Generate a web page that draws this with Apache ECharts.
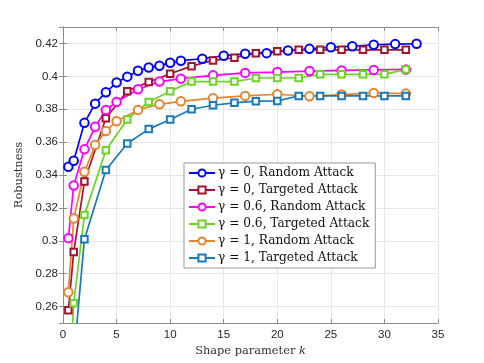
<!DOCTYPE html>
<html>
<head>
<meta charset="utf-8">
<script src="https://cdn.jsdelivr.net/npm/echarts@6/dist/echarts.min.js"></script>
<style>
  html, body {margin: 0; padding: 0; background: #fff;}
  #chart {width: 484px; height: 363px;}
</style>
</head>
<body>
<div id="chart"></div>
<script>
// 形状参数 k 与鲁棒性
const kRand0 = [0.5, 1, 2, 3, 4, 5, 6, 7, 8, 9, 10, 11, 13, 15, 17, 19, 21, 23, 25, 27, 29, 31, 33]
const rRand0 = [0.345, 0.3487, 0.3717, 0.3834, 0.3903, 0.3962, 0.3998, 0.4034, 0.4054, 0.4064, 0.4083, 0.4095, 0.4107, 0.4125, 0.4137, 0.4141, 0.4157, 0.4167, 0.4177, 0.4183, 0.4192, 0.4196, 0.4198]

const kTarg0 = [0.5, 1, 2, 4, 6, 8, 10, 12, 14, 16, 18, 20, 22, 24, 26, 28, 30, 32]
const rTarg0 = [0.2577, 0.2932, 0.336, 0.3745, 0.391, 0.3965, 0.4016, 0.4062, 0.4097, 0.4113, 0.4141, 0.4153, 0.4161, 0.4161, 0.4161, 0.4161, 0.4161, 0.4161]

const kRand06 = [0.5, 1, 2, 3, 4, 5, 7, 9, 11, 14, 17, 20, 23, 26, 29, 32]
const rRand06 = [0.3016, 0.3336, 0.3556, 0.3693, 0.3795, 0.3844, 0.3921, 0.3968, 0.3986, 0.4006, 0.4021, 0.4026, 0.4032, 0.4036, 0.4039, 0.4042]

const kTarg06 = [0.5, 1, 2, 4, 6, 8, 10, 12, 14, 16, 18, 20, 22, 24, 26, 28, 30, 32]
const rTarg06 = [0.205, 0.262, 0.3156, 0.3551, 0.3738, 0.3844, 0.391, 0.3968, 0.3968, 0.3968, 0.399, 0.399, 0.399, 0.4012, 0.4012, 0.4012, 0.4012, 0.4042]

const kRand1 = [0.5, 1, 2, 3, 4, 5, 7, 9, 11, 14, 17, 20, 23, 26, 29, 32]
const rRand1 = [0.2687, 0.3135, 0.342, 0.3582, 0.3668, 0.3727, 0.3796, 0.383, 0.3848, 0.3867, 0.3881, 0.3891, 0.3879, 0.3889, 0.3899, 0.3895]

const kTarg1 = [0.5, 1, 2, 4, 6, 8, 10, 12, 14, 16, 18, 20, 22, 24, 26, 28, 30, 32]
const rTarg1 = [0.19, 0.228, 0.301, 0.343, 0.3592, 0.3679, 0.3738, 0.38, 0.3824, 0.3839, 0.3849, 0.385, 0.3881, 0.3881, 0.3881, 0.3881, 0.3881, 0.3881]

const seriesNames = [
  'γ = 0, Random Attack',
  'γ = 0, Targeted Attack',
  'γ = 0.6, Random Attack',
  'γ = 0.6, Targeted Attack',
  'γ = 1, Random Attack',
  'γ = 1, Targeted Attack',
]

function zip(xs, ys) {
  return xs.map((x, i) => [x, ys[i]])
}

function makeLine(name, xs, ys, color, symbol) {
  const isCircle = symbol === 'emptyCircle'
  return {
    name: name,
    type: 'line',
    data: zip(xs, ys),
    symbol: symbol,
    symbolSize: isCircle ? 8.5 : 6.5,
    showAllSymbol: true,
    clip: true,
    lineStyle: {color: color, width: 1.7},
    itemStyle: {color: color, borderColor: color, borderWidth: 1.6},
    emphasis: {disabled: true},
  }
}

const serif = "'DejaVu Serif', 'Liberation Serif', serif"
const sans = "'Liberation Sans', Arial, sans-serif"
const axisGray = '#8c8c8c'

let myChart = echarts.init(document.getElementById('chart'))
myChart.setOption({
  animation: false,
  grid: {left: 63, right: 46, top: 27, bottom: 40},  // 与原图的坐标框对齐
  legend: {
    orient: 'vertical',
    left: 184,
    top: 163,
    padding: [4, 6, 4, 4],
    itemWidth: 26,
    itemHeight: 9,
    itemGap: 5,
    backgroundColor: '#fff',
    borderColor: '#999',
    borderWidth: 1,
    textStyle: {fontFamily: serif, fontSize: 12.2, color: '#111', padding: [0, 0, 0, -2]},
    data: seriesNames,
  },
  xAxis: [
    {
      type: 'value',
      min: 0,
      max: 35,
      interval: 5,
      name: 'Shape parameter {i|k}',
      nameLocation: 'middle',
      nameGap: 20,
      nameTextStyle: {
        fontFamily: serif, fontSize: 11.4, color: '#333',
        rich: {i: {fontFamily: serif, fontStyle: 'italic', fontSize: 11.4, color: '#333'}},
      },
      axisLine: {show: true, lineStyle: {color: axisGray, width: 1}},
      axisTick: {show: true, inside: true, length: 4, lineStyle: {color: axisGray}},
      axisLabel: {margin: 6, color: '#262626', fontFamily: sans, fontSize: 11.5},
      splitLine: {show: true, lineStyle: {color: '#e6e6e6', width: 1}},
    },
    {
      type: 'value',
      position: 'top',
      min: 0,
      max: 35,
      interval: 5,
      axisLine: {show: true, lineStyle: {color: axisGray, width: 1}},
      axisTick: {show: true, inside: true, length: 4, lineStyle: {color: axisGray}},
      axisLabel: {show: false},
      splitLine: {show: false},
    },
  ],
  yAxis: [
    {
      type: 'value',
      min: 0.25,
      max: 0.43,
      splitNumber: 9,  // 自动得到 0.02 的间隔，刻度从 0.26 开始
      name: 'Robustness',
      nameLocation: 'middle',
      nameGap: 34,
      nameTextStyle: {fontFamily: serif, fontSize: 11.4, color: '#333'},
      axisLine: {show: true, lineStyle: {color: axisGray, width: 1}},
      axisTick: {show: true, inside: true, length: 4, lineStyle: {color: axisGray}},
      axisLabel: {
        margin: 5, color: '#262626', fontFamily: sans, fontSize: 11.5,
        showMinLabel: false, showMaxLabel: false,
      },
      splitLine: {show: true, lineStyle: {color: '#e6e6e6', width: 1}},
    },
    {
      type: 'value',
      position: 'right',
      min: 0.25,
      max: 0.43,
      splitNumber: 9,
      axisLine: {show: true, lineStyle: {color: axisGray, width: 1}},
      axisTick: {show: true, inside: true, length: 4, lineStyle: {color: axisGray}},
      axisLabel: {show: false},
      splitLine: {show: false},
    },
  ],
  series: [
    makeLine(seriesNames[0], kRand0, rRand0, '#0000ff', 'emptyCircle'),
    makeLine(seriesNames[1], kTarg0, rTarg0, '#a2142f', 'emptyRect'),
    makeLine(seriesNames[2], kRand06, rRand06, '#ff00ff', 'emptyCircle'),
    makeLine(seriesNames[3], kTarg06, rTarg06, '#6cd424', 'emptyRect'),
    makeLine(seriesNames[4], kRand1, rRand1, '#e5852d', 'emptyCircle'),
    makeLine(seriesNames[5], kTarg1, rTarg1, '#1a78bd', 'emptyRect'),
  ],
})
window.addEventListener('resize', () => myChart.resize())
</script>
</body>
</html>
